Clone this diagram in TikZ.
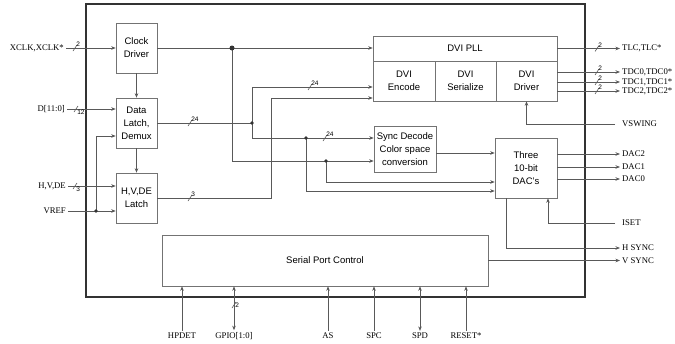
\documentclass[tikz,border=0pt]{standalone}
\usepackage{fontspec}
\setmainfont{Liberation Serif}
\setsansfont{Liberation Sans}
\usetikzlibrary{arrows.meta, positioning, calc}

\definecolor{wiregray}{gray}{0.35}
\definecolor{boxgray}{gray}{0.45}

\tikzset{
  block/.style={draw=boxgray, line width=0.6pt, align=center, inner sep=1pt,
    font=\sffamily\fontsize{9.5}{13}\selectfont},
  wire/.style={draw=wiregray, line width=0.6pt},
  pin/.style={font=\fontsize{8.7}{10}\selectfont, inner sep=2pt},
  buslabel/.style={font=\sffamily\fontsize{6.5}{7}\selectfont, inner sep=1pt},
  dot/.style={circle, fill=black!80, inner sep=0pt, minimum size=3.8pt},
}

% bus width slash: x, y, width, label placement
\newcommand{\busmark}[4]{%
  \draw[wire] (#1-2,#2+3) -- (#1+2,#2-3) node[midway, buslabel, #4] {#3};}

\begin{document}
\begin{tikzpicture}[x=1pt, y=-1pt, >={Stealth[length=4.5pt,width=3.5pt]}]
  \useasboundingbox (0,0) rectangle (675,343);

  % chip outline
  \draw[line width=1.1pt, draw=black!80] (86,4) rectangle (585,297);

  % blocks
  \node[block, minimum width=41pt, minimum height=50pt] (clk) at (136.5,48) {Clock\\Driver};
  \node[block, minimum width=41pt, minimum height=50pt] (dlatch) at (136.5,123) {Data\\Latch,\\Demux};
  \node[block, minimum width=41pt, minimum height=50pt] (hlatch) at (136.5,198) {H,V,DE\\Latch};
  \node[block, minimum width=184pt, minimum height=25pt] (pll) at (465,48.5) {DVI PLL};
  \node[block, minimum width=62pt, minimum height=40pt] (enc) at (404,81) {DVI\\Encode};
  \node[block, minimum width=61pt, minimum height=40pt] (ser) at (465.5,81) {DVI\\Serialize};
  \node[block, minimum width=61pt, minimum height=40pt] (drv) at (526.5,81) {DVI\\Driver};
  \node[block, minimum width=62pt, minimum height=46pt] (sync) at (405,149) {Sync Decode\\Color space\\conversion};
  \node[block, minimum width=62pt, minimum height=60pt] (dac) at (526,168) {Three\\10-bit\\DAC's};
  \node[block, minimum width=326pt, minimum height=51pt] (spc) at (325,260.5) {Serial Port Control};

  % input pins
  \node[pin, anchor=east] (xclk) at (66,48) {XCLK,XCLK*};
  \node[pin, anchor=east] (din) at (67,109) {D[11:0]};
  \node[pin, anchor=east] (hvde) at (68,186) {H,V,DE};
  \node[pin, anchor=east] (vref) at (68,211) {VREF};

  % output pins
  \node[pin, anchor=west] (tlc) at (620,48.5) {TLC,TLC*};
  \node[pin, anchor=west] (tdc0) at (620,72) {TDC0,TDC0*};
  \node[pin, anchor=west] (tdc1) at (620,82) {TDC1,TDC1*};
  \node[pin, anchor=west] (tdc2) at (620,91) {TDC2,TDC2*};
  \node[pin, anchor=west, inner xsep=7pt] (vswing) at (615,124) {VSWING};
  \node[pin, anchor=west] (dac2) at (620,154) {DAC2};
  \node[pin, anchor=west] (dac1) at (620,167) {DAC1};
  \node[pin, anchor=west] (dac0) at (620,179) {DAC0};
  \node[pin, anchor=west, inner xsep=7pt] (iset) at (615,223) {ISET};
  \node[pin, anchor=west] (hsync) at (620,248) {H SYNC};
  \node[pin, anchor=west] (vsync) at (620,260.5) {V SYNC};

  % serial port pins
  \node[pin] (hpdet) at (182,336) {HPDET};
  \node[pin] (gpio) at (234,336) {GPIO[1:0]};
  \node[pin] (as) at (328,336) {AS};
  \node[pin] (spcpin) at (374,336) {SPC};
  \node[pin] (spd) at (420,336) {SPD};
  \node[pin] (reset) at (466,336) {RESET*};

  % junctions
  \coordinate (j1) at (232,48);
  \coordinate (j2) at (252,123);
  \coordinate (j3) at (306,138);
  \coordinate (j4) at (326,161);
  \coordinate (jv) at (96,211);

  % front end
  \draw[wire,->] (xclk.east) -- (clk.west);
  \draw[wire,->] (clk.south) -- (dlatch.north);
  \draw[wire,->] (dlatch.south) -- (hlatch.north);
  \draw[wire,->] (din.east) -- (din.east -| dlatch.west);
  \draw[wire,->] (hvde.east) -- (hvde.east -| hlatch.west);
  \draw[wire,->] (vref.east) -- (vref.east -| hlatch.west);
  \draw[wire,->] (jv) |- ($(dlatch.west)+(0,13)$);

  % clock distribution
  \draw[wire,->] (clk.east) -- (clk.east -| pll.west);
  \draw[wire,->] (j1) |- ($(sync.west)+(0,12)$);
  \draw[wire,->] (j4) |- ($(dac.west)+(0,14)$);

  % pixel data
  \draw[wire] (dlatch.east) -- (j2);
  \draw[wire,->] (j2) |- ($(enc.west)+(0,6)$);
  \draw[wire,->] (j2) |- ($(sync.west)+(0,-11)$);
  \draw[wire,->] (j3) |- ($(dac.west)+(0,23)$);
  \draw[wire,->] (hlatch.east) -- ++(114,0) |- ($(enc.west)+(0,17)$);
  \coordinate (dacin) at ($(dac.west)+(0,-15)$);
  \draw[wire,->] (sync.east |- dacin) -- (dacin);

  % DVI outputs
  \draw[wire,->] (pll.east) -- (tlc.west);
  \foreach \p in {tdc0,tdc1,tdc2}
    \draw[wire,->] (drv.east |- \p.west) -- (\p.west);
  \draw[wire,->] (vswing.west) -| (drv.south);

  % analog outputs
  \foreach \p in {dac2,dac1,dac0}
    \draw[wire,->] (dac.east |- \p.west) -- (\p.west);
  \draw[wire,->] (iset.west) -| ($(dac.south)+(22,0)$);
  \draw[wire,->] ($(dac.south)+(-20,0)$) |- (hsync.west);
  \draw[wire,->] (spc.east |- vsync.west) -- (vsync.west);

  % serial port
  \foreach \p in {hpdet,as,spcpin,reset}
    \draw[wire,->] (\p.north) -- (\p.north |- spc.south);
  \foreach \p in {gpio,spd}
    \draw[wire,<->] (\p.north) -- (\p.north |- spc.south);

  % bus widths
  \busmark{75}{48}{2}{above right}
  \busmark{76}{109}{12}{below right}
  \busmark{75}{186}{3}{below right}
  \busmark{190}{123}{24}{above right}
  \busmark{310}{87}{24}{above right}
  \busmark{325}{138}{24}{above right}
  \busmark{190}{198}{3}{above right}
  \foreach \y in {48.5,72,82,91}{
    \busmark{597}{\y}{2}{above right}
  }
  \busmark{234}{305}{2}{right}

  \node[dot, minimum size=5pt] at (j1) {};
  \foreach \j in {j2,j3,j4,jv}
    \node[dot] at (\j) {};
\end{tikzpicture}
\end{document}
